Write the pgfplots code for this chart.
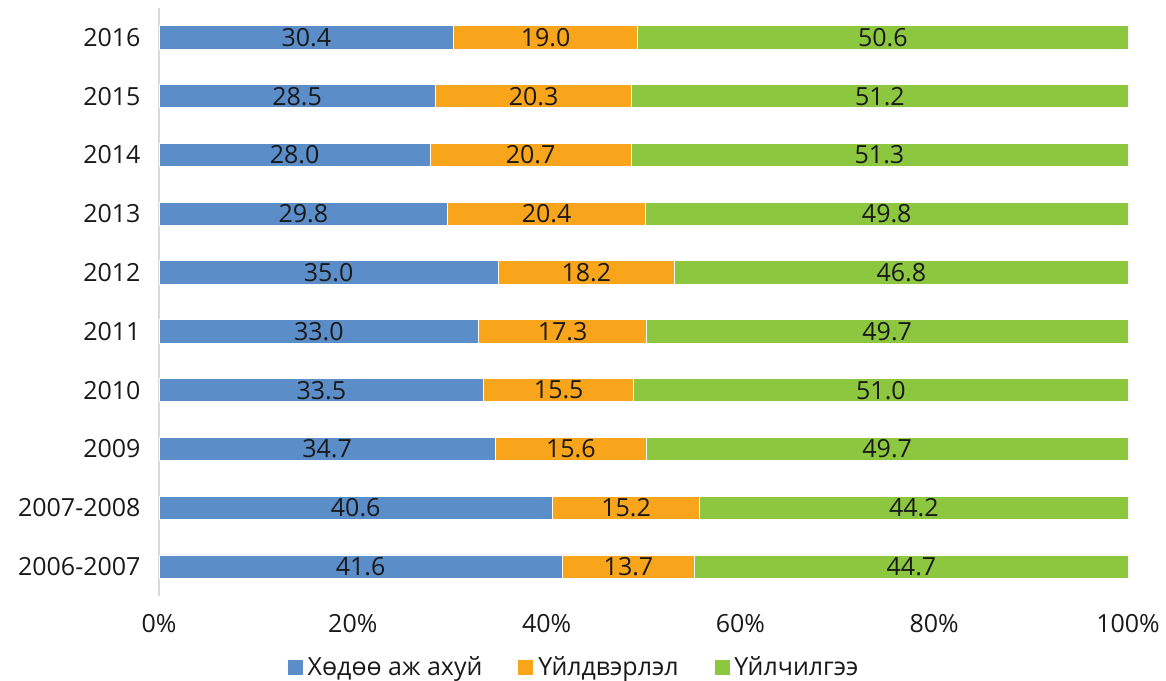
\documentclass[border=0pt]{standalone}
\usepackage{pgfplots}
\pgfplotsset{compat=1.18}
\usepackage{fontspec}
\setmainfont{Open Sans}
\definecolor{cA}{RGB}{91,142,201}
\definecolor{cB}{RGB}{249,165,27}
\definecolor{cC}{RGB}{141,198,63}
\definecolor{axgray}{RGB}{217,217,217}
\newcommand{\lf}{\fontsize{25}{30}\selectfont}
\begin{document}
\begin{tikzpicture}
\useasboundingbox (0,0) rectangle (1166pt,680pt);
\begin{axis}[
  at={(159pt,84pt)}, anchor=south west,
  scale only axis, width=969pt, height=588pt,
  xbar stacked, bar width=23.4pt,
  xmin=0, xmax=100, ymin=-0.5, ymax=9.5,
  xtick={0,20,40,60,80,100},
  xticklabels={0\%,20\%,40\%,60\%,80\%,100\%},
  ytick={0,1,2,3,4,5,6,7,8,9},
  yticklabels={2006-2007,2007-2008,2009,2010,2011,2012,2013,2014,2015,2016},
  major tick length=0pt, tick style={draw=none},
  axis x line*=bottom, axis y line*=left,
  x axis line style={draw=none,-},
  y axis line style={draw=axgray,line width=1.5pt,-},
  xticklabel style={font=\lf, text=black!90, yshift=-15pt},
  yticklabel style={font=\lf, text=black!90, xshift=-15pt},
  legend style={at={(0.430,-0.1207)}, anchor=center, draw=none, fill=none,
    font=\lf, text=black!90, legend columns=3,
    nodes={inner xsep=5pt},
    /tikz/every even column/.append style={column sep=31pt}},
]
\addplot[fill=cA, draw=white, line width=0.8pt,
  legend image code/.code={\fill[cA] (0pt,-7pt) rectangle (14pt,7pt);}]
  coordinates {(41.6,0) (40.6,1) (34.7,2) (33.5,3) (33.0,4) (35.0,5) (29.8,6) (28.0,7) (28.5,8) (30.4,9)};
\addplot[fill=cB, draw=white, line width=0.8pt,
  legend image code/.code={\fill[cB] (0pt,-7pt) rectangle (14pt,7pt);}]
  coordinates {(13.7,0) (15.2,1) (15.6,2) (15.5,3) (17.3,4) (18.2,5) (20.4,6) (20.7,7) (20.3,8) (19.0,9)};
\addplot[fill=cC, draw=white, line width=0.8pt,
  legend image code/.code={\fill[cC] (0pt,-7pt) rectangle (14pt,7pt);}]
  coordinates {(44.7,0) (44.2,1) (49.7,2) (51.0,3) (49.7,4) (46.8,5) (49.8,6) (51.3,7) (51.2,8) (50.6,9)};
\legend{Хөдөө аж ахуй, Үйлдвэрлэл, Үйлчилгээ}
\end{axis}
\begin{axis}[
  at={(159pt,84pt)}, anchor=south west,
  scale only axis, width=969pt, height=588pt,
  xmin=0, xmax=100, ymin=-0.5, ymax=9.5,
  hide axis, clip=false,
  every node near coord/.append style={anchor=center, font=\lf, text=black!90},
]
\addplot[draw=none, mark=none,
  nodes near coords, point meta=explicit symbolic]
  coordinates {
  (20.8,0)[41.6] (20.3,1)[40.6] (17.35,2)[34.7] (16.75,3)[33.5] (16.5,4)[33.0]
  (17.5,5)[35.0] (14.9,6)[29.8] (14.0,7)[28.0] (14.25,8)[28.5] (15.2,9)[30.4]
  (48.45,0)[13.7] (48.2,1)[15.2] (42.5,2)[15.6] (41.25,3)[15.5] (41.65,4)[17.3]
  (44.1,5)[18.2] (40.0,6)[20.4] (38.35,7)[20.7] (38.65,8)[20.3] (39.9,9)[19.0]
  (77.65,0)[44.7] (77.9,1)[44.2] (75.15,2)[49.7] (74.5,3)[51.0] (75.15,4)[49.7]
  (76.6,5)[46.8] (75.1,6)[49.8] (74.35,7)[51.3] (74.4,8)[51.2] (74.7,9)[50.6]
  };
\end{axis}
\end{tikzpicture}
\end{document}
